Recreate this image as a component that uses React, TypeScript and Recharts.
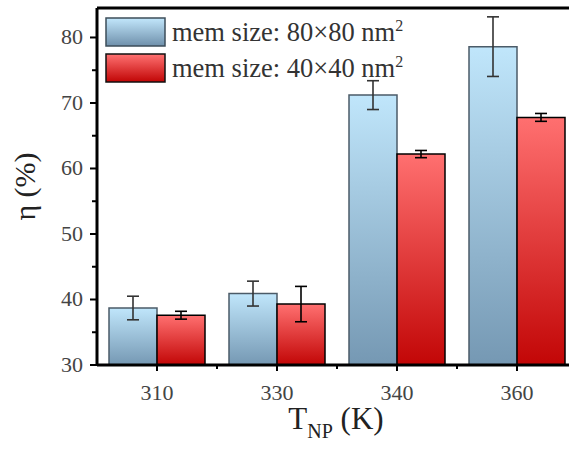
import React from "react";
import {
  BarChart,
  Bar,
  XAxis,
  YAxis,
  ErrorBar,
  ReferenceLine,
  Label,
} from "recharts";

const temps = ["310", "330", "340", "360"];
const eta80 = [38.7, 40.9, 71.2, 78.6];
const err80 = [1.8, 1.9, 2.2, 4.55];
const eta40 = [37.6, 39.3, 62.2, 67.8];
const err40 = [0.6, 2.7, 0.55, 0.6];
const yTicks = [30, 35, 40, 45, 50, 55, 60, 65, 70, 75, 80];
const Y_MAX = 84.5;

const FONT = "'Liberation Serif', 'Times New Roman', serif";

const data = temps.map((t, i) => ({
  temp: t,
  m80: eta80[i],
  e80: err80[i],
  m40: eta40[i],
  e40: err40[i],
}));

const YTick = ({ x, y, payload }: any) => {
  const major = payload.value % 10 === 0;
  return (
    <g>
      <line x1={x - (major ? 7 : 5)} x2={x} y1={y} y2={y} stroke="#000" strokeWidth={2} />
      {major && (
        <text x={x - 14} y={y} dy={7} textAnchor="end" fontSize={22} fill="#444" style={{ fontFamily: FONT }}>
          {payload.value}
        </text>
      )}
    </g>
  );
};

const XTick = ({ x, y, payload, index }: any) => (
  <g>
    <line x1={x} x2={x} y1={y} y2={y + 6} stroke="#000" strokeWidth={2} />
    {index > 0 && <line x1={x - 60} x2={x - 60} y1={y} y2={y + 4} stroke="#000" strokeWidth={2} />}
    <text x={x} y={y + 35} textAnchor="middle" fontSize={22} fill="#444" style={{ fontFamily: FONT }}>
      {payload.value}
    </text>
  </g>
);

const Swatch = ({ top, bottom, stroke, id }: any) => (
  <svg width={61} height={30} style={{ display: "block", flex: "none" }}>
    <defs>
      <linearGradient id={id} x1="0" y1="0" x2="0" y2="1">
        <stop offset="0%" stopColor={top} />
        <stop offset="100%" stopColor={bottom} />
      </linearGradient>
    </defs>
    <rect x={1} y={1} width={59} height={28} fill={`url(#${id})`} stroke={stroke} strokeWidth={1.5} />
  </svg>
);

// legend sits inside the frame, no background so the error bar under it stays visible
const LegendBox = () => (
  <div
    style={{
      position: "absolute",
      left: 100,
      top: 13,
      padding: "4px 8px 4px 5px",
      fontFamily: FONT,
      fontSize: 26.5,
      color: "#333",
      lineHeight: "30px",
      whiteSpace: "nowrap",
      pointerEvents: "none",
    }}
  >
    <div style={{ display: "flex", alignItems: "center", gap: 6, marginBottom: 6 }}>
      <Swatch id="lg80" top="#c2e7fc" bottom="#6f90ab" stroke="#3d4d5a" />
      <span>
        mem size: 80×80 nm<sup style={{ fontSize: 16, lineHeight: 0 }}>2</sup>
      </span>
    </div>
    <div style={{ display: "flex", alignItems: "center", gap: 6 }}>
      <Swatch id="lg40" top="#ff7272" bottom="#c10505" stroke="#111" />
      <span>
        mem size: 40×40 nm<sup style={{ fontSize: 16, lineHeight: 0 }}>2</sup>
      </span>
    </div>
  </div>
);

const YLabel = ({ viewBox }: any) => {
  const cy = viewBox.y + viewBox.height / 2;
  return (
    <text
      x={35}
      y={cy}
      transform={`rotate(-90, 35, ${cy})`}
      textAnchor="middle"
      fontSize={30}
      fill="#222"
      style={{ fontFamily: FONT }}
    >
      η (%)
    </text>
  );
};

const XLabel = () => (
  <text x={336} y={429} textAnchor="middle" fontSize={31} fill="#222" style={{ fontFamily: FONT }}>
    T<tspan fontSize={20} dy={9}>NP</tspan>
    <tspan dy={-9}> (K)</tspan>
  </text>
);

export default function App() {
  return (
    <div
      style={{
        position: "absolute",
        left: 0,
        top: 0,
        width: 569,
        height: 453,
        overflow: "hidden",
        background: "#fff",
      }}
    >
      <BarChart
        width={600}
        height={453}
        data={data}
        margin={{ top: 8, right: 23, left: 0, bottom: 0 }}
        barCategoryGap="10%"
        barGap={0}
      >
        <defs>
          <linearGradient id="g80" x1="0" y1="0" x2="0" y2="1">
            <stop offset="0%" stopColor="#c0e6fb" />
            <stop offset="100%" stopColor="#7598b3" />
          </linearGradient>
          <linearGradient id="g40" x1="0" y1="0" x2="0" y2="1">
            <stop offset="0%" stopColor="#ff7070" />
            <stop offset="100%" stopColor="#c20606" />
          </linearGradient>
        </defs>
        <XAxis
          dataKey="temp"
          height={88}
          axisLine={{ stroke: "#000", strokeWidth: 3 }}
          tickLine={false}
          tickSize={0}
          tickMargin={0}
          tick={<XTick />}
          interval={0}
        />
        <YAxis
          width={97}
          domain={[30, Y_MAX]}
          ticks={yTicks}
          allowDataOverflow
          axisLine={{ stroke: "#000", strokeWidth: 3 }}
          tickLine={false}
          tickSize={0}
          tickMargin={0}
          tick={<YTick />}
          interval={0}
        >
          <Label content={<YLabel />} />
        </YAxis>
        <ReferenceLine y={Y_MAX} stroke="#000" strokeWidth={3} />
        <Bar
          dataKey="m80"
          fill="url(#g80)"
          stroke="#4b5b68"
          strokeWidth={1.5}
          isAnimationActive={false}
        >
          <ErrorBar dataKey="e80" width={6} stroke="#333" strokeWidth={1.6} />
        </Bar>
        <Bar
          dataKey="m40"
          fill="url(#g40)"
          stroke="#000"
          strokeWidth={1.5}
          isAnimationActive={false}
        >
          <ErrorBar dataKey="e40" width={6} stroke="#000" strokeWidth={1.6} />
        </Bar>
      </BarChart>
      <LegendBox />
      <svg
        width={569}
        height={453}
        style={{ position: "absolute", left: 0, top: 0, pointerEvents: "none" }}
      >
        <XLabel />
      </svg>
    </div>
  );
}
